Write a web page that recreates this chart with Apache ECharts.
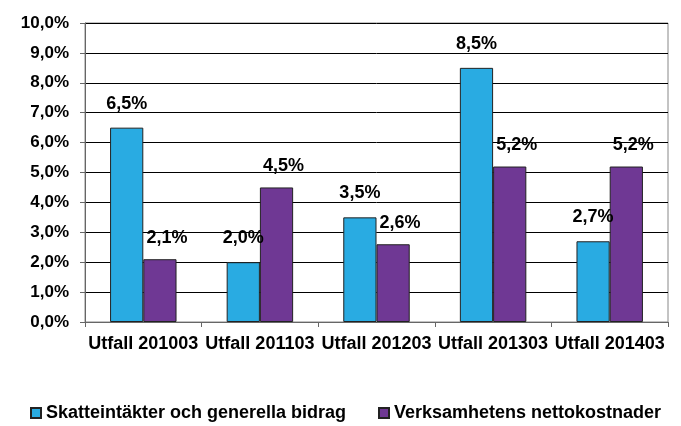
<!DOCTYPE html>
<html>
<head>
    <meta charset="utf-8">
    <title></title>
    <script type="text/javascript" src="https://cdn.jsdelivr.net/npm/echarts@6/dist/echarts.min.js"></script>
</head>
<body style="margin:0;background:#fff;">

<div id="main" style="width: 681px;height:426px;"></div>
<script type="text/javascript">
    // kategorier och värden (procent)
    var kategorier = ['Utfall 201003', 'Utfall 201103', 'Utfall 201203', 'Utfall 201303', 'Utfall 201403'];
    var skatt = [6.5, 2.0, 3.5, 8.5, 2.7];
    var verksamhet = [2.1, 4.5, 2.6, 5.2, 5.2];
    var serieNamn = ['Skatteintäkter och generella bidrag', 'Verksamhetens nettokostnader'];

    var myChart = echarts.init(document.getElementById('main'));

    function pct(v) {
        return v.toFixed(1).replace('.', ',') + '%';
    }

    var font = 'Liberation Sans, Arial, sans-serif';

    function etikett(avstand, forskjut) {
        return {
            show: true,
            position: 'top',
            distance: avstand,
            offset: [forskjut, 0],
            fontFamily: font,
            fontWeight: 'bold',
            fontSize: 18,
            color: '#000',
            formatter: function (p) { return pct(p.value); }
        };
    }

    // en legend per serie, så att raden inte bryts
    function legend(namn, x) {
        return {
            data: [namn],
            top: 404,
            left: x,
            padding: 0,
            itemWidth: 10,
            itemHeight: 10,
            itemGap: 0,
            icon: 'rect',
            textStyle: {
                fontFamily: font,
                fontWeight: 'bold',
                fontSize: 18,
                color: '#000'
            }
        };
    }

    option = {
        animation: false,
        backgroundColor: '#fff',
        grid: {
            left: 85,
            right: 13,
            top: 23,
            bottom: 104,
            show: true,
            borderColor: '#888',
            borderWidth: 1
        },
        legend: [legend(serieNamn[0], 30), legend(serieNamn[1], 378)],
        xAxis: {
            type: 'category',
            data: kategorier,
            axisLine: { lineStyle: { color: '#666', width: 1 } },
            axisTick: { show: true, length: 5, lineStyle: { color: '#666' } },
            axisLabel: {
                fontFamily: font,
                fontWeight: 'bold',
                fontSize: 18,
                color: '#000',
                margin: 13,
                interval: 0
            }
        },
        yAxis: {
            type: 'value',
            min: 0,
            max: 10,
            interval: 1,
            axisLine: { show: true, lineStyle: { color: '#666', width: 1 } },
            axisTick: { show: true, length: 5, lineStyle: { color: '#666' } },
            splitLine: { lineStyle: { color: '#000', width: 1 } },
            axisLabel: {
                fontFamily: font,
                fontWeight: 'bold',
                fontSize: 17,
                color: '#000',
                margin: 16,
                formatter: function (v) { return pct(v); }
            }
        },
        series: [{
            name: serieNamn[0],
            type: 'bar',
            data: skatt,
            barGap: '0%',
            barCategoryGap: '43%',
            itemStyle: { color: '#29ABE2', borderColor: '#222', borderWidth: 1 },
            label: etikett(15, 0)
        }, {
            name: serieNamn[1],
            type: 'bar',
            data: verksamhet,
            itemStyle: { color: '#6F3894', borderColor: '#222', borderWidth: 1 },
            label: etikett(12, 7)
        }]
    };

    myChart.setOption(option);
</script>

</body>
</html>
